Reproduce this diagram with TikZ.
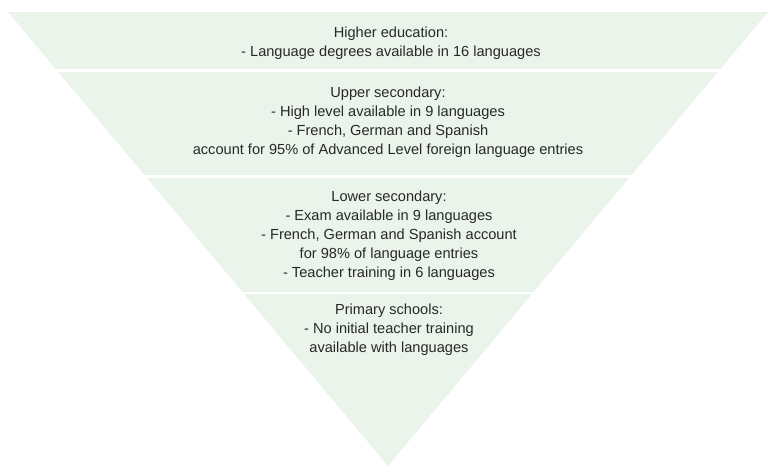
\documentclass[tikz,border=0pt]{standalone}
\usepackage{fontspec}
\setmainfont{Liberation Sans}
\definecolor{bandfill}{RGB}{234,244,235}
\definecolor{txt}{RGB}{40,40,40}
\begin{document}
\begin{tikzpicture}[x=1pt,y=-1pt,
  bandtext/.style={align=center,text=txt,font=\fontsize{14.6}{19}\selectfont,inner sep=0pt,anchor=north},
  sep/.style={draw=white,line width=2.6pt}]
\useasboundingbox (0,0) rectangle (769,466);
\fill[bandfill] (8,12) -- (768,12) -- (388,466) -- cycle;
\draw[sep] (0,70.5) -- (769,70.5);
\draw[sep] (0,176.5) -- (769,176.5);
\draw[sep] (0,293) -- (769,293);
\node[bandtext] (he) at (391,26.5) {Higher education:\\- Language degrees available in 16 languages};
\node[bandtext] (us) at (388,86.5) {Upper secondary:\\- High level available in 9 languages\\- French, German and Spanish\\account for 95\% of Advanced Level foreign language entries};
\node[bandtext] (ls) at (389,190.5) {Lower secondary:\\- Exam available in 9 languages\\- French, German and Spanish account\\for 98\% of language entries\\- Teacher training in 6 languages};
\node[bandtext] (ps) at (389,303.5) {Primary schools:\\- No initial teacher training\\available with languages};
\end{tikzpicture}
\end{document}
